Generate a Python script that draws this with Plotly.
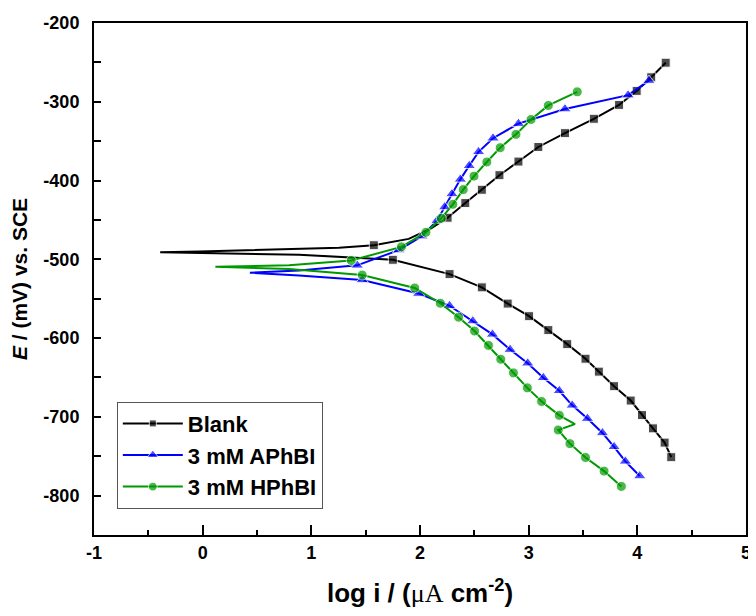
import plotly.graph_objects as go

# Curvas de polarización: log i (µA cm-2) contra E (mV vs. SCE).
# Cada serie va del extremo catódico al extremo anódico pasando por Ecorr.

BLANCO_X = [
    4.312, 4.251, 4.144, 4.043, 3.939, 3.786, 3.646, 3.523, 3.355, 3.181,
    3.004, 2.807, 2.569, 2.272, 1.750, 0.887, -0.030, -0.391, -0.030, 0.887,
    1.254, 1.575, 1.896, 2.098, 2.254, 2.417, 2.569, 2.731, 2.906, 3.089,
    3.334, 3.600, 3.832, 3.994, 4.128, 4.261,
]
BLANCO_Y = [
    -751.2, -732.7, -714.6, -697.8, -679.3, -661.1, -642.6, -626.2, -607.7, -589.9,
    -572.2, -556.2, -535.6, -518.8, -500.6, -494.1, -492.0, -491.1, -490.1, -487.0,
    -485.2, -482.1, -474.1, -461.1, -447.2, -428.6, -411.7, -393.2, -375.9, -357.4,
    -339.8, -321.6, -304.0, -286.2, -268.9, -250.4,
]
# Puntos de la curva que no llevan marcador
BLANCO_SIN_MARCA = [15, 16, 17, 18, 19, 20, 22, 23]

APHBI_X = [
    4.022, 3.890, 3.786, 3.679, 3.541, 3.401, 3.282, 3.135, 2.991, 2.829,
    2.667, 2.486, 2.272, 1.988, 1.468, 0.887, 0.435, 0.887, 1.422, 1.805,
    2.018, 2.156, 2.227, 2.294, 2.371, 2.453, 2.539, 2.672, 2.906, 3.334,
    3.915, 4.107,
]
APHBI_Y = [
    -775.1, -756.5, -738.0, -720.4, -702.2, -685.4, -666.9, -650.4, -631.9, -614.6,
    -595.3, -578.4, -559.0, -543.5, -526.2, -520.4, -517.0, -514.2, -507.7, -488.3,
    -470.6, -450.9, -433.6, -417.0, -398.5, -381.2, -363.6, -346.3, -327.8, -309.3,
    -291.6, -273.1,
]
APHBI_SIN_MARCA = [15, 16, 17]

HPHBI_X = [
    3.853, 3.694, 3.523, 3.380, 3.272, 3.426, 3.282, 3.119, 2.988, 2.860,
    2.743, 2.630, 2.502, 2.355, 2.187, 1.951, 1.468, 0.795, 0.117, 0.795,
    1.367, 1.829, 2.055, 2.196, 2.302, 2.398, 2.497, 2.615, 2.738, 2.883,
    3.022, 3.181, 3.447,
]
HPHBI_Y = [
    -788.3, -768.9, -751.6, -734.0, -716.7, -709.3, -698.1, -680.5, -663.2, -644.2,
    -626.9, -609.3, -591.1, -573.5, -555.8, -536.4, -520.0, -512.3, -509.6, -507.4,
    -501.5, -484.2, -465.7, -447.9, -430.2, -411.5, -394.4, -376.5, -358.3, -341.4,
    -322.5, -304.7, -287.4,
]
HPHBI_SIN_MARCA = [5, 17, 18, 19]

# Etiquetas de los ejes (con guion normal, como en el original)
X_TICKS = [-1, 0, 1, 2, 3, 4, 5]
X_ETIQUETAS = ["-1", "0", "1", "2", "3", "4", "5"]
Y_TICKS = [-800, -700, -600, -500, -400, -300, -200]
Y_ETIQUETAS = ["-800", "-700", "-600", "-500", "-400", "-300", "-200"]

FUENTE = "Arial, Liberation Sans, sans-serif"


def tamanos(n, sin_marca, tam):
    return [0 if i in sin_marca else tam for i in range(n)]


fig = go.Figure()

series = [
    ("Blank", BLANCO_X, BLANCO_Y, BLANCO_SIN_MARCA, "#000000", "square", 9),
    ("3 mM APhBI", APHBI_X, APHBI_Y, APHBI_SIN_MARCA, "#0000FF", "triangle-up", 11),
    ("3 mM HPhBI", HPHBI_X, HPHBI_Y, HPHBI_SIN_MARCA, "#009900", "circle", 10),
]

for nombre, xs, ys, sin_marca, color, simbolo, tam in series:
    fig.add_trace(
        go.Scatter(
            x=xs,
            y=ys,
            name=nombre,
            mode="lines+markers",
            line_color=color,
            line_width=2,
            marker_symbol=simbolo,
            marker_color=color,
            marker_size=tamanos(len(xs), sin_marca, tam),
        )
    )

fig.update_xaxes(
    range=[-1, 5],
    tickvals=X_TICKS,
    ticktext=X_ETIQUETAS,
    ticks="inside",
    ticklen=10,
    tickwidth=2,
    tickcolor="#000000",
    minor=dict(ticks="inside", ticklen=5, tickwidth=2, dtick=0.5, tickcolor="#000000"),
    showline=True,
    linewidth=2,
    linecolor="#000000",
    mirror=True,
    showgrid=False,
    zeroline=False,
    ticklabeloverflow="allow",
    tickfont=dict(family=FUENTE, size=18, color="#000000", weight="bold"),
    title=dict(
        text="<b>log i / (</b><span style='font-family:Liberation Serif'>μA</span><b> cm<sup>-2</sup>)</b>",
        font=dict(family=FUENTE, size=26, color="#000000"),
        standoff=22,
    ),
)

fig.update_yaxes(
    range=[-850, -200],
    tickvals=Y_TICKS,
    ticktext=Y_ETIQUETAS,
    ticks="inside",
    ticklen=7,
    tickwidth=2,
    tickcolor="#000000",
    minor=dict(ticks="inside", ticklen=7, tickwidth=2, dtick=50, tickcolor="#000000"),
    showline=True,
    linewidth=2,
    linecolor="#000000",
    mirror=True,
    showgrid=False,
    zeroline=False,
    ticklabelstandoff=9,
    ticklabeloverflow="allow",
    tickfont=dict(family=FUENTE, size=18, color="#000000", weight="bold"),
    title=dict(
        text="<b><i>E</i> / (mV) vs. SCE</b>",
        font=dict(family=FUENTE, size=21, color="#000000"),
        standoff=10,
    ),
)

# La página añade un margen de 8 px, así que la figura es más pequeña
fig.update_layout(
    width=748,
    height=600,
    margin=dict(l=86, r=8, t=5, b=69),
    plot_bgcolor="#FFFFFF",
    paper_bgcolor="#FFFFFF",
    showlegend=True,
    legend=dict(
        x=0.035,
        y=0.2605,
        xanchor="left",
        yanchor="top",
        bordercolor="#555555",
        borderwidth=1,
        bgcolor="#FFFFFF",
        itemwidth=60,
        tracegroupgap=0,
        font=dict(family=FUENTE, size=22, color="#000000", weight="bold"),
    ),
)

fig.write_html("out.html")
